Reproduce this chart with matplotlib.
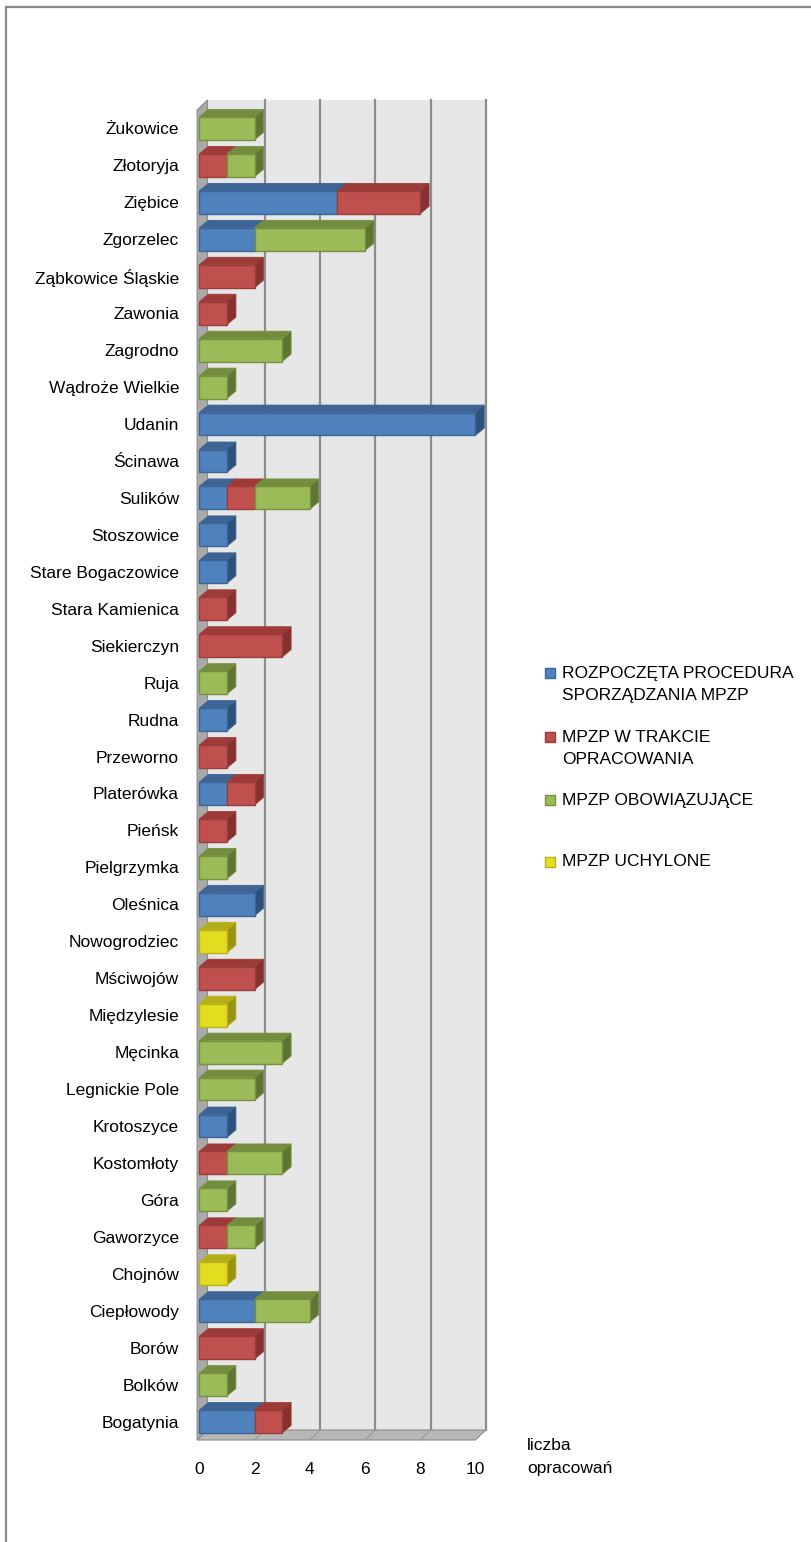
import matplotlib.pyplot as plt
from matplotlib.patches import Polygon, Rectangle
import numpy as np

plt.rcParams['font.family'] = ['Liberation Sans Narrow', 'Liberation Sans', 'DejaVu Sans']

gminy = [
    "Żukowice", "Złotoryja", "Ziębice", "Zgorzelec", "Ząbkowice Śląskie",
    "Zawonia", "Zagrodno", "Wądroże Wielkie", "Udanin", "Ścinawa",
    "Sulików", "Stoszowice", "Stare Bogaczowice", "Stara Kamienica",
    "Siekierczyn", "Ruja", "Rudna", "Przeworno", "Platerówka", "Pieńsk",
    "Pielgrzymka", "Oleśnica", "Nowogrodziec", "Mściwojów", "Międzylesie",
    "Męcinka", "Legnickie Pole", "Krotoszyce", "Kostomłoty", "Góra",
    "Gaworzyce", "Chojnów", "Ciepłowody", "Borów", "Bolków", "Bogatynia",
]
rozpoczeta = [0, 0, 5, 2, 0, 0, 0, 0, 10, 1, 1, 1, 1, 0, 0, 0, 1, 0, 1, 0,
              0, 2, 0, 0, 0, 0, 0, 1, 0, 0, 0, 0, 2, 0, 0, 2]
w_trakcie = [0, 1, 3, 0, 2, 1, 0, 0, 0, 0, 1, 0, 0, 1, 3, 0, 0, 1, 1, 1,
             0, 0, 0, 2, 0, 0, 0, 0, 1, 0, 1, 0, 0, 2, 0, 1]
obowiazujace = [2, 1, 0, 4, 0, 0, 3, 1, 0, 0, 2, 0, 0, 0, 0, 1, 0, 0, 0, 0,
                1, 0, 0, 0, 0, 3, 2, 0, 2, 1, 1, 0, 2, 0, 1, 0]
uchylone = [0, 0, 0, 0, 0, 0, 0, 0, 0, 0, 0, 0, 0, 0, 0, 0, 0, 0, 0, 0,
            0, 0, 1, 0, 1, 0, 0, 0, 0, 0, 0, 1, 0, 0, 0, 0]

serie = [
    ("ROZPOCZĘTA PROCEDURA\nSPORZĄDZANIA MPZP", rozpoczeta),
    ("MPZP W TRAKCIE\nOPRACOWANIA", w_trakcie),
    ("MPZP OBOWIĄZUJĄCE", obowiazujace),
    ("MPZP UCHYLONE", uchylone),
]
xticks = [0, 2, 4, 6, 8, 10]

# front, top, side, edge
kolory = [
    ("#4F81BD", "#3D6494", "#2F5078", "#3A6596"),
    ("#C0504D", "#9E3B39", "#863130", "#9A3C3A"),
    ("#9BBB59", "#738C40", "#5F7535", "#76923C"),
    ("#E3DD1F", "#B3AE18", "#989314", "#B8B21A"),
]

W, H = 811, 1542
fig = plt.figure(figsize=(W / 100, H / 100), dpi=100)

# frame of the picture
fig.add_artist(plt.Line2D([6 / W, 6 / W], [0, 1 - 7 / H], color="#8a8a8a", lw=1.6))
fig.add_artist(plt.Line2D([6 / W, 1], [1 - 7 / H, 1 - 7 / H], color="#8a8a8a", lw=1.6))

left_px, right_px, top_px, bot_px = 197.1, 475.3, 110, 1440
ax = fig.add_axes([left_px / W, 1 - bot_px / H, (right_px - left_px) / W,
                   (bot_px - top_px) / H])
n = len(gminy)
ax.set_xlim(-0.08, 10.0)
ax.set_ylim(-0.5, n - 0.5)
ppx = (right_px - left_px) / 10.08
ppy = (bot_px - top_px) / n

pos = np.arange(n)[::-1]

# walls
dxw, dyw = 10.4 / ppx, 10 / ppy
x0, x1 = -0.08, 10.0
y0, y1 = -0.5, n - 0.5
ax.add_patch(Polygon([(x0 + dxw, y0 + dyw), (x1 + dxw, y0 + dyw),
                      (x1 + dxw, y1 + dyw), (x0 + dxw, y1 + dyw)],
                     closed=True, fc="#e7e7e7", ec="none", zorder=0, clip_on=False))
for t in xticks[1:]:
    ax.plot([t + dxw, t + dxw], [y0 + dyw, y1 + dyw], color="#8c8c8c", lw=1.6,
            zorder=1, clip_on=False)
ax.add_patch(Polygon([(x0, y0), (x0 + dxw, y0 + dyw), (x0 + dxw, y1 + dyw), (x0, y1)],
                     closed=True, fc="#a9a9a9", ec="#8c8c8c", lw=0.8, zorder=1,
                     clip_on=False))
ax.add_patch(Polygon([(x0, y0), (x1, y0), (x1 + dxw, y0 + dyw), (x0 + dxw, y0 + dyw)],
                     closed=True, fc="#b7b7b7", ec="#8c8c8c", lw=0.8, zorder=1,
                     clip_on=False))
for t in xticks[1:-1]:
    ax.plot([t, t + dxw], [y0, y0 + dyw], color="#9a9a9a", lw=0.8, zorder=1,
            clip_on=False)

# 3D bars
dxb, dyb = 9 / ppx, 7.5 / ppy
h = 0.62
lewo = np.zeros(n)
for (nazwa, wart), (cf, ct, cs, ce) in zip(serie, kolory):
    wart = np.array(wart, dtype=float)
    jest = wart > 0
    for y, l, w in zip(pos[jest], lewo[jest], wart[jest]):
        top = y + h / 2
        bot = y - h / 2
        ax.add_patch(Polygon([(l, top), (l + w, top), (l + w + dxb, top + dyb),
                              (l + dxb, top + dyb)], closed=True, fc=ct, ec=ce,
                             lw=0.6, zorder=3, clip_on=False))
        ax.add_patch(Polygon([(l + w, bot), (l + w + dxb, bot + dyb),
                              (l + w + dxb, top + dyb), (l + w, top)], closed=True,
                             fc=cs, ec=ce, lw=0.6, zorder=3, clip_on=False))
    ax.barh(pos[jest], wart[jest], left=lewo[jest], height=h, color=cf,
            edgecolor=ce, lw=1.0, zorder=4, clip_on=False)
    lewo = lewo + wart

for s in ax.spines.values():
    s.set_visible(False)
ax.set_facecolor("none")
ax.set_yticks(pos, gminy, fontsize=12.5)
ax.set_xticks(xticks, [str(t) for t in xticks], fontsize=12.5)
ax.tick_params(axis="y", length=0, pad=13)
ax.tick_params(axis="x", length=0, pad=16)

fig.text(527 / W, 1 - 1446 / H, "liczba", fontsize=12.5, ha="left", va="center")
fig.text(527 / W, 1 - 1468 / H, "opracowań", fontsize=12.5, ha="left", va="center")

# legend
leg_y = [684.5, 748.5, 800, 862]
for (nazwa, _), (cf, ct, cs, ce), yy in zip(serie, kolory, leg_y):
    sq_y = yy if "\n" not in nazwa else yy - 12
    fig.add_artist(Rectangle((545 / W, 1 - (sq_y + 5) / H), 10 / W, 10 / H,
                             fc=cf, ec=ce, lw=1.0))
    fig.text(562 / W, 1 - yy / H, nazwa, fontsize=12.5, ha="left", va="center",
             linespacing=1.6)

fig.savefig("out.png", dpi=100)
